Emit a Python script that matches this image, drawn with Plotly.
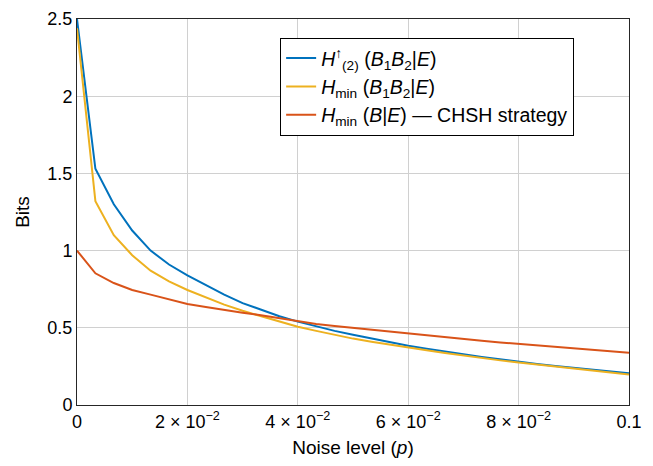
import plotly.graph_objects as go

p = [i / 300 for i in range(31)]

h_up2 = [2.50, 1.53, 1.30, 1.13, 1.00, 0.91, 0.84, 0.775, 0.715, 0.66, 0.615,
         0.575, 0.54, 0.51, 0.48, 0.455, 0.43, 0.405, 0.384, 0.365, 0.345,
         0.328, 0.311, 0.295, 0.28, 0.266, 0.253, 0.240, 0.228, 0.216, 0.205]
h_min = [2.44, 1.32, 1.10, 0.97, 0.87, 0.80, 0.745, 0.695, 0.65, 0.61, 0.575,
         0.54, 0.507, 0.48, 0.455, 0.43, 0.41, 0.39, 0.372, 0.354, 0.337,
         0.32, 0.304, 0.289, 0.275, 0.261, 0.248, 0.235, 0.223, 0.21, 0.198]
h_chsh = [1.0, 0.853, 0.79, 0.745, 0.715, 0.683, 0.654, 0.635, 0.615, 0.598, 0.582,
          0.563, 0.54, 0.525, 0.512, 0.5, 0.487, 0.474, 0.46, 0.45, 0.438,
          0.427, 0.416, 0.405, 0.395, 0.385, 0.375, 0.366, 0.357, 0.348, 0.339]

x_ticks = [0, 0.02, 0.04, 0.06, 0.08, 0.1]
x_tick_labels = ["0", "2 × 10<sup>−2</sup>", "4 × 10<sup>−2</sup>",
                 "6 × 10<sup>−2</sup>", "8 × 10<sup>−2</sup>", "0.1"]
y_ticks = [0, 0.5, 1, 1.5, 2, 2.5]
y_tick_labels = ["0", "0.5", "1", "1.5", "2", "2.5"]

names = [
    "<i>H</i><sup>↑</sup><sub>(2)</sub> (<i>B</i><sub>1</sub><i>B</i><sub>2</sub>|<i>E</i>)",
    "<i>H</i><sub>min</sub> (<i>B</i><sub>1</sub><i>B</i><sub>2</sub>|<i>E</i>)",
    "<i>H</i><sub>min</sub> (<i>B</i>|<i>E</i>) — CHSH strategy",
]
colors = ["#0072BD", "#EDB120", "#D95319"]

fig = go.Figure()
for ys, nm, c in zip([h_up2, h_min, h_chsh], names, colors):
    fig.add_trace(go.Scatter(x=p, y=ys, mode="lines", name=nm,
                             line=dict(color=c, width=2)))

font = "Liberation Sans, Arial, sans-serif"
fig.update_layout(
    width=637, height=450,
    margin=dict(l=69, r=16, t=11, b=53, autoexpand=False),
    plot_bgcolor="white", paper_bgcolor="white",
    font=dict(family=font, size=18, color="black"),
    legend=dict(x=0.368, y=0.951, xanchor="left", yanchor="top",
                bordercolor="black", borderwidth=1, bgcolor="white",
                font=dict(size=19.5), tracegroupgap=0, itemwidth=30),
    showlegend=True,
)
fig.update_xaxes(range=[0, 0.1], tickvals=x_ticks, ticktext=x_tick_labels,
                 tickfont=dict(size=18),
                 showgrid=True, gridcolor="#d0d0d0", gridwidth=1,
                 showline=True, linecolor="#262626", linewidth=1, mirror=True,
                 zeroline=False, ticks="", automargin=False,
                 title=dict(text="Noise level (<i>p</i>)", standoff=11, font=dict(size=19)))
fig.update_yaxes(range=[0, 2.5], tickvals=y_ticks, ticktext=y_tick_labels,
                 tickfont=dict(size=18),
                 showgrid=True, gridcolor="#d0d0d0", gridwidth=1,
                 showline=True, linecolor="#262626", linewidth=1, mirror=True,
                 zeroline=False, ticks="", automargin=False,
                 title=dict(text="Bits", standoff=12, font=dict(size=19)))

fig.write_html("out.html")
